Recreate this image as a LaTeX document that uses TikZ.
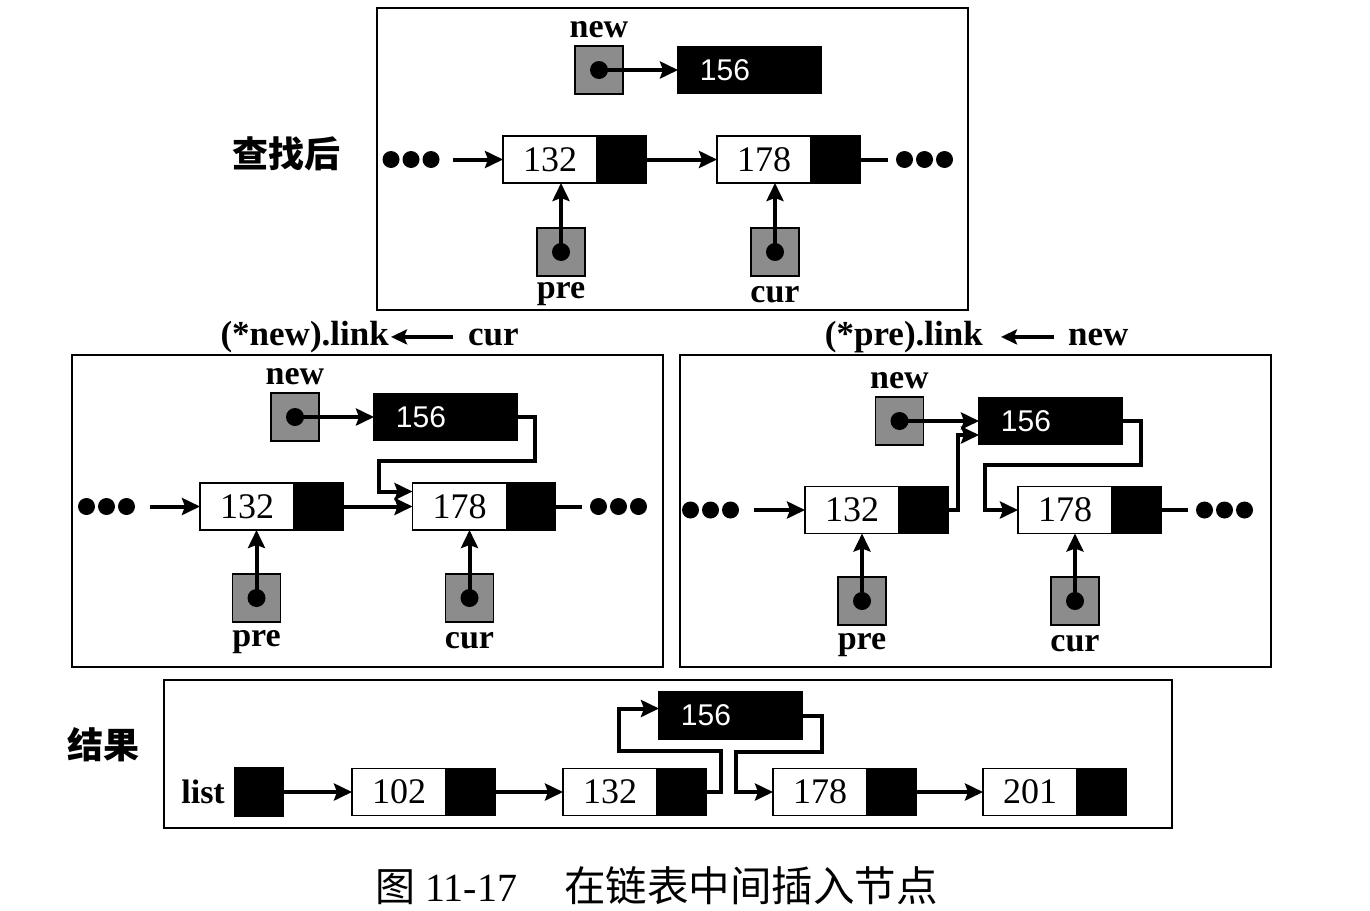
\documentclass[tikz,border=0pt]{standalone}
\usepackage{fontspec}
\setmainfont{Liberation Serif}
\newfontfamily\sansf{Liberation Sans}
\newfontfamily\cjk{Noto Sans CJK SC}
\usetikzlibrary{positioning, arrows.meta}
\tikzstyle{datab} = [rectangle, draw, line width=1.6pt, fill=white, minimum width=94pt, minimum height=47pt, inner sep=0, outer sep=0, font=\fontsize{36}{40}\selectfont]
\tikzstyle{linkb} = [rectangle, draw, line width=1.6pt, fill=black, minimum width=49pt, minimum height=47pt, inner sep=0, outer sep=0, anchor=west]
\tikzstyle{newb} = [datab, fill=black, text=white, font=\sansf\fontsize{30}{34}\selectfont]
\tikzstyle{ptrb} = [rectangle, draw, line width=1.5pt, fill=black!45, minimum size=48pt, inner sep=0, outer sep=0]
\tikzstyle{dotsb} = [rectangle, minimum width=58pt, minimum height=18pt, inner sep=0, outer sep=0]
\tikzstyle{panel} = [rectangle, draw, line width=2pt, inner sep=0]
\tikzstyle{lbl} = [inner sep=0, font=\bfseries\fontsize{34}{38}\selectfont]
\tikzstyle{ttl} = [inner sep=0, font=\bfseries\fontsize{35}{40}\selectfont]
\tikzstyle{cjkl} = [inner sep=0, font=\cjk\bfseries\fontsize{36}{40}\selectfont]
\tikzstyle{line} = [draw, line width=4pt, -{Stealth[length=18pt,width=17pt,inset=3pt]}]
\tikzstyle{lineb} = [draw, line width=4pt, shorten >=8pt]
\tikzstyle{ttlarrow} = [draw, line width=3.5pt, -{Stealth[length=16pt,width=15pt,inset=3pt]}]
\begin{document}
\begin{tikzpicture}[x=1pt, y=-1pt]
\useasboundingbox (0,0) rectangle (1370,910);

% 查找后
\node [panel, minimum width=591pt, minimum height=302pt] (P1) at (672.5,159) {};
\node [cjkl] (t1) at (286,154) {查找后};
\node [ptrb] (p1n) at (599,70) {};
\node [lbl, above=8pt of p1n] {new};
\node [newb] (v1) at (725,70) {156};
\node [linkb, right=0pt of v1] (v1l) {};
\node [dotsb] (d1a) at (411,159.5) {};
\node [datab] (n1) at (550,159.5) {132};
\node [linkb, right=0pt of n1] (n1l) {};
\node [datab] (m1) at (764,159.5) {178};
\node [linkb, right=0pt of m1] (m1l) {};
\node [dotsb] (d1b) at (924.5,159.5) {};
\node [ptrb] (p1p) at (561,252) {};
\node [lbl, below=6pt of p1p] {pre};
\node [ptrb] (p1c) at (775,252) {};
\node [lbl, below=10pt of p1c] {cur};

\path [line] (p1n.center) -- (v1.west);
\path [line, shorten <=13pt] (d1a) -- (n1);
\path [line] (n1l) -- (m1);
\path [lineb] (m1l) -- (d1b);
\path [line] (p1p.center) -- (p1p.center |- n1.south);
\path [line] (p1c.center) -- (p1c.center |- m1.south);

% (*new).link <- cur
\node [panel, minimum width=591pt, minimum height=312pt] (P2) at (367.5,511) {};
\node [ttl, anchor=base east] (h2a) at (389,345) {(*new).link};
\node [ttl, anchor=base west] (h2b) at (468,345) {cur};
\node [ptrb] (p2n) at (295,417) {};
\node [lbl, above=8pt of p2n] {new};
\node [newb] (v2) at (421,417) {156};
\node [linkb, right=0pt of v2] (v2l) {};
\node [dotsb] (d2a) at (106.5,506.5) {};
\node [datab] (n2) at (247,506.5) {132};
\node [linkb, right=0pt of n2] (n2l) {};
\node [datab] (m2) at (459.5,506.5) {178};
\node [linkb, right=0pt of m2] (m2l) {};
\node [dotsb] (d2b) at (618.5,506.5) {};
\node [ptrb] (p2p) at (256.5,598) {};
\node [lbl, below=8pt of p2p] {pre};
\node [ptrb] (p2c) at (469.5,598) {};
\node [lbl, below=10pt of p2c] {cur};

\path [ttlarrow, shorten <=15pt, shorten >=2pt] (h2b.west) -- (h2b.west -| h2a.east);
\path [line] (p2n.center) -- (v2.west);
\path [line, shorten <=14pt] (d2a) -- (n2);
\path [line] (n2l) -- (m2);
\path [lineb] (m2l) -- (d2b);
\path [line] (v2l.east) -- ++(18,0) -- ++(0,44) -- ++(-156,0) |- ([yshift=15pt]m2.west);
\path [line] (p2p.center) -- (p2p.center |- n2.south);
\path [line] (p2c.center) -- (p2c.center |- m2.south);

% (*pre).link <- new
\node [panel, minimum width=591pt, minimum height=312pt] (P3) at (975.5,511) {};
\node [ttl, anchor=base east] (h3a) at (983,345) {(*pre).link};
\node [ttl, anchor=base west] (h3b) at (1068,345) {new};
\node [ptrb] (p3n) at (899.5,421) {};
\node [lbl, above=8pt of p3n] {new};
\node [newb] (v3) at (1026,421) {156};
\node [linkb, right=0pt of v3] (v3l) {};
\node [dotsb] (d3a) at (710.5,510) {};
\node [datab] (n3) at (852,510) {132};
\node [linkb, right=0pt of n3] (n3l) {};
\node [datab] (m3) at (1065,510) {178};
\node [linkb, right=0pt of m3] (m3l) {};
\node [dotsb] (d3b) at (1224.5,510) {};
\node [ptrb] (p3p) at (862,601) {};
\node [lbl, below=8pt of p3p] {pre};
\node [ptrb] (p3c) at (1075,601) {};
\node [lbl, below=10pt of p3c] {cur};

\path [ttlarrow, shorten <=14pt, shorten >=18pt] (h3b.west) -- (h3b.west -| h3a.east);
\path [line] (p3n.center) -- (v3.west);
\path [line, shorten <=14pt] (d3a) -- (n3);
\path [lineb] (m3l) -- (d3b);
\path [line] (n3l.east) -- ++(10,0) |- ([yshift=-14pt]v3.west);
\path [line] (v3l.east) -- ++(19,0) -- ++(0,44) -- ++(-156,0) |- (m3.west);
\path [line] (p3p.center) -- (p3p.center |- n3.south);
\path [line] (p3c.center) -- (p3c.center |- m3.south);

% 结果
\node [panel, minimum width=1008pt, minimum height=148pt] (P4) at (668,754) {};
\node [cjkl] (t4) at (103,745) {结果};
\node [linkb, anchor=center, minimum width=48pt, minimum height=48pt] (hd) at (259,792) {};
\node [lbl, left=10pt of hd] {list};
\node [datab] (n4a) at (399,792) {102};
\node [linkb, right=0pt of n4a] (n4al) {};
\node [datab] (n4b) at (610,792) {132};
\node [linkb, right=0pt of n4b] (n4bl) {};
\node [newb] (v4) at (706,715.5) {156};
\node [linkb, right=0pt of v4] (v4l) {};
\node [datab] (n4c) at (820,792) {178};
\node [linkb, right=0pt of n4c] (n4cl) {};
\node [datab] (n4d) at (1030,792) {201};
\node [linkb, right=0pt of n4d] (n4dl) {};

\path [line] (hd) -- (n4a);
\path [line] (n4al) -- (n4b);
\path [line] (n4bl.east) -- ++(15,0) -- ++(0,-41) -- ++(-102,0) |- ([yshift=7pt]v4.west);
\path [line] (v4l.east) -- ++(20,0) -- ++(0,36) -- ++(-86,0) |- (n4c.west);
\path [line] (n4cl) -- (n4d);

% dots
\foreach \p in {p1n,p1p,p1c,p2n,p2p,p2c,p3n,p3p,p3c}
  \fill (\p) circle (9pt);
\foreach \d in {d1a,d1b,d2a,d2b,d3a,d3b}
  \foreach \i in {-20,0,20}
    \fill ([xshift=\i pt]\d.center) circle (8.5pt);

\node [anchor=west, inner sep=0, font=\fontsize{40}{46}\selectfont] (cap) at (375,886) {{\cjk 图} 11-17\hspace{47pt}{\cjk\fontsize{41.5}{46}\selectfont 在链表中间插入节点}};

\end{tikzpicture}
\end{document}
